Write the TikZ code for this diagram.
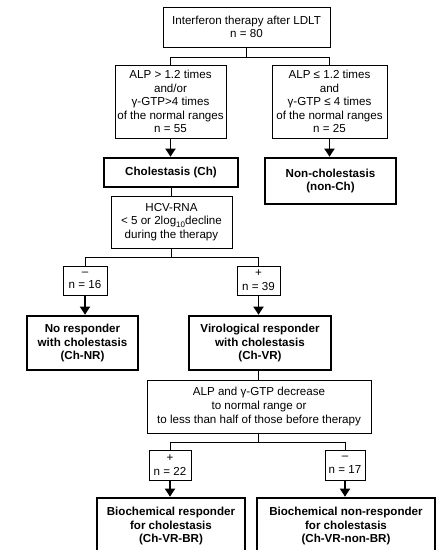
\documentclass[tikz,border=0pt]{standalone}
\usepackage{fontspec}
\setmainfont{Liberation Sans}
\usetikzlibrary{arrows.meta}
\begin{document}
\begin{tikzpicture}[x=1pt,y=-1pt,
  box/.style={draw, line width=0.9pt, inner sep=0pt, align=center, font=\fontsize{11.6}{13.6}\selectfont},
  res/.style={box, line width=2.6pt, font=\fontsize{11.6}{13.6}\selectfont\bfseries},
  conn/.style={line width=0.9pt},
  arr/.style={line width=1.8pt, -{Triangle[width=10pt,length=8pt]}}
]
\useasboundingbox (0,0) rectangle (440,550);
% level 1
\node[box, minimum width=167pt, minimum height=40pt] (top) at (246.5,27) {Interferon therapy after LDLT\\n = 80};
\node[box, minimum width=111pt, minimum height=73pt] (critL) at (170.5,101.5) {ALP > 1.2 times\\and/or\\γ-GTP>4 times\\of the normal ranges\\n = 55};
\node[box, minimum width=115pt, minimum height=73pt] (critR) at (329.5,101.5) {ALP ≤ 1.2 times\\and\\γ-GTP ≤ 4 times\\of the normal ranges\\n = 25};
\node[res, minimum width=134pt, minimum height=29pt] (ch) at (171,172.5) {Cholestasis (Ch)};
\node[res, minimum width=131pt, minimum height=46pt] (nonch) at (330.5,181) {Non-cholestasis\\(non-Ch)};
\node[box, minimum width=121pt, minimum height=52pt] (hcv) at (171.5,222) {HCV-RNA\\< 5 or 2log\raisebox{-2.5pt}{\fontsize{8}{8}\selectfont 10}decline\\during the therapy};
\node[box, minimum width=44pt, minimum height=29pt] (neg16) at (85,280.5) {–\\n = 16};
\node[box, minimum width=43pt, minimum height=29pt] (pos39) at (258.5,280.5) {+\\n = 39};
\node[res, minimum width=111pt, minimum height=54pt] (nr) at (82.5,343) {No responder\\with cholestasis\\(Ch-NR)};
\node[res, minimum width=142pt, minimum height=54pt] (vr) at (260,343) {Virological responder\\with cholestasis\\(Ch-VR)};
\node[box, minimum width=224pt, minimum height=53pt] (alp) at (259,406.5) {ALP and γ-GTP decrease\\to normal range or\\to less than half of those before therapy};
\node[box, minimum width=42pt, minimum height=30pt] (pos22) at (170,465) {+\\n = 22};
\node[box, minimum width=40pt, minimum height=30pt] (neg17) at (345,465) {–\\n = 17};
\node[res, minimum width=148pt, minimum height=56pt] (br) at (171,526) {Biochemical responder\\for cholestasis\\(Ch-VR-BR)};
\node[res, minimum width=178pt, minimum height=56pt] (nbr) at (346,526) {Biochemical non-responder\\for cholestasis\\(Ch-VR-non-BR)};
% connectors
\draw[conn] (top.south) -- ++(0,10) coordinate (b1);
\draw[conn] (b1) -| (critL.north);
\draw[conn] (b1) -| (critR.north);
\draw[arr] (critL.south) -- (critL.south |- ch.north);
\draw[arr] (critR.south) -- (critR.south |- nonch.north);
\draw[conn] (ch.south) -- (ch.south |- hcv.north);
\draw[conn] (hcv.south) -- ++(0,9) coordinate (b2);
\draw[conn] (b2) -| (neg16.north);
\draw[conn] (b2) -| (pos39.north);
\draw[arr] (neg16.south) -- (neg16.south |- nr.north);
\draw[arr] (pos39.south) -- (pos39.south |- vr.north);
\draw[conn] (pos39.south |- vr.south) -- (pos39.south |- alp.north);
\draw[conn] (pos39.south |- alp.south) -- ++(0,9) coordinate (b3);
\draw[conn] (b3) -| (pos22.north);
\draw[conn] (b3) -| (neg17.north);
\draw[arr] (pos22.south) -- (pos22.south |- br.north);
\draw[arr] (neg17.south) -- (neg17.south |- nbr.north);
\end{tikzpicture}
\end{document}
